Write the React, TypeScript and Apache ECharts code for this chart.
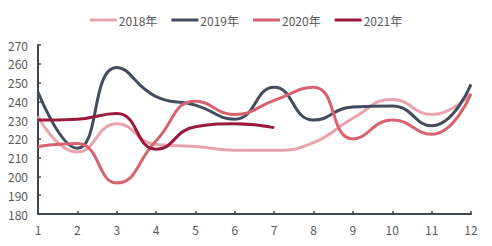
import React, { useEffect, useRef } from "react";
import * as echarts from "echarts";

const months = ["1", "2", "3", "4", "5", "6", "7", "8", "9", "10", "11", "12"];
const s2018 = [232, 213, 228, 217, 216, 214, 214, 218, 231, 241, 233, 244];
const s2019 = [245, 215, 258, 242.5, 238, 230.5, 247.5, 230, 237, 237.5, 227, 249];
const s2020 = [216, 217.5, 196.5, 219, 240, 233, 240.5, 247.5, 220, 230, 222.5, 244];
const s2021 = [230, 230.5, 233.5, 214.5, 226.5, 228, 226];
const names = ["2018年", "2019年", "2020年", "2021年"];
const colors = ["#E8A3AD", "#434C5E", "#D8636E", "#9A1A3E"];

export default function App() {
  const ref = useRef<HTMLDivElement>(null);
  useEffect(() => {
    if (!ref.current) return;
    const chart = echarts.init(ref.current, null, { renderer: "svg" });
    const data = [s2018, s2019, s2020, s2021];
    chart.setOption({
      animation: false,
      backgroundColor: "#ffffff",
      textStyle: { fontFamily: "'Noto Sans CJK SC', 'Noto Sans', sans-serif" },
      legend: {
        top: 9,
        left: "center",
        itemWidth: 27,
        itemHeight: 3,
        itemGap: 14,
        icon: "rect",
        textStyle: { color: "#595959", fontSize: 12, padding: [0, 0, 0, -3] },
        data: names,
      },
      grid: { left: 38, right: 21, top: 45, bottom: 32 },
      xAxis: {
        type: "category",
        data: months,
        boundaryGap: false,
        axisLine: { lineStyle: { color: "#404652", width: 2 } },
        axisTick: { inside: true, length: 3, alignWithLabel: true, lineStyle: { color: "#404652", width: 1.5 } },
        axisLabel: { color: "#595959", fontSize: 12, margin: 9 },
      },
      yAxis: {
        type: "value",
        min: 180,
        max: 270,
        interval: 10,
        splitLine: { show: false },
        axisLine: { show: true, lineStyle: { color: "#404652", width: 2 } },
        axisTick: { show: true, inside: true, length: 3, lineStyle: { color: "#404652", width: 1.5 } },
        axisLabel: { color: "#595959", fontSize: 12, margin: 10 },
      },
      series: names.map((n, i) => ({
        name: n,
        type: "line",
        data: data[i],
        smooth: 0.5,
        symbol: "none",
        lineStyle: { color: colors[i], width: 3 },
        itemStyle: { color: colors[i] },
        z: i === 3 ? 5 : 2,
      })),
    });
    return () => chart.dispose();
  }, []);
  return <div ref={ref} style={{ width: 492, height: 246, position: "absolute", left: 0, top: 0 }} />;
}
